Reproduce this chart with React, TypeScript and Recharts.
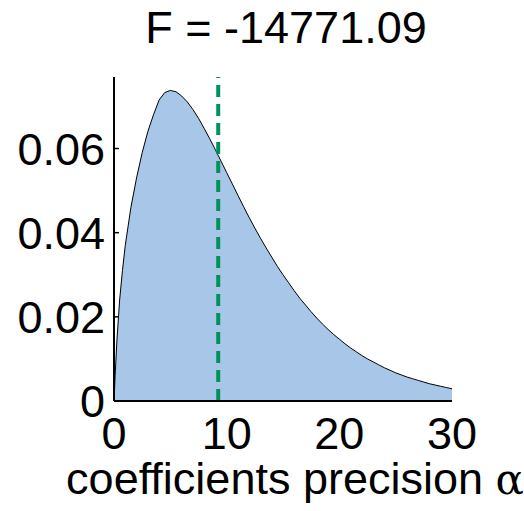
import React from 'react';
import { ComposedChart, Area, XAxis, YAxis, ReferenceLine } from 'recharts';

const alphaValues = [0, 0.1, 0.25, 0.5, 0.75, 1, 1.5, 2, 2.5, 3, 3.5, 4, 4.5, 5, 5.5, 6, 6.5, 7, 7.5, 8, 8.5, 9, 9.5, 10, 10.5, 11, 11.5, 12, 12.5, 13, 13.5, 14, 14.5, 15, 15.5, 16, 16.5, 17, 17.5, 18, 18.5, 19, 19.5, 20, 20.5, 21, 21.5, 22, 22.5, 23, 23.5, 24, 24.5, 25, 25.5, 26, 26.5, 27, 27.5, 28, 28.5, 29, 29.5, 30];
const densityValues = [0, 0.006, 0.014, 0.024, 0.031, 0.037, 0.046, 0.053, 0.059, 0.064, 0.068, 0.0715, 0.0733, 0.0738, 0.0735, 0.0725, 0.0711, 0.0693, 0.0672, 0.0648, 0.0623, 0.0597, 0.0570, 0.0543, 0.0516, 0.0489, 0.0462, 0.0436, 0.0411, 0.0387, 0.0364, 0.0342, 0.0320, 0.0300, 0.0281, 0.0262, 0.0244, 0.0228, 0.0212, 0.0197, 0.0183, 0.0170, 0.0158, 0.0147, 0.0136, 0.0126, 0.0117, 0.0108, 0.0100, 0.0093, 0.0086, 0.0079, 0.0073, 0.0067, 0.0062, 0.0057, 0.0053, 0.0049, 0.0045, 0.0041, 0.0038, 0.0035, 0.0032, 0.0029];
const xTicks = [0, 10, 20, 30];
const yTicks = [0, 0.02, 0.04, 0.06];
const meanAlpha = 9.25;
const titleText = 'F = -14771.09';
const xLabelText = 'coefficients precision ';
const xLabelSymbol = 'α';

const data = alphaValues.map((a, i) => ({ alpha: a, density: densityValues[i] }));

const FONT = '"Liberation Sans", Arial, sans-serif';

export default function App() {
  return (
    <div style={{ position: 'absolute', left: 0, top: 0, width: 524, height: 511, background: '#fff', fontFamily: FONT }}>
      <ComposedChart width={524} height={511} data={data} margin={{ top: 77, right: 72, bottom: 0, left: 0 }}>
        <XAxis
          dataKey="alpha"
          type="number"
          domain={[0, 30]}
          ticks={xTicks}
          allowDataOverflow
          height={110}
          tickSize={0}
          tickMargin={16}
          tickLine={false}
          axisLine={{ stroke: '#000', strokeWidth: 2 }}
          tick={{ fill: '#000', fontSize: 45, fontFamily: FONT }}
          interval={0}
        />
        <YAxis
          type="number"
          domain={[0, 0.077]}
          ticks={yTicks}
          allowDataOverflow
          width={114}
          tickSize={-5}
          tickMargin={14}
          tickLine={{ stroke: '#000', strokeWidth: 1.5 }}
          axisLine={{ stroke: '#000', strokeWidth: 2 }}
          tick={{ fill: '#000', fontSize: 45, fontFamily: FONT }}
          tickFormatter={(v: number) => (v === 0 ? '0' : v.toFixed(2))}
          interval={0}
        />
        <Area
          dataKey="density"
          type="linear"
          fill="#a7c6e8"
          fillOpacity={1}
          stroke="#000"
          strokeWidth={1}
          isAnimationActive={false}
          dot={false}
          activeDot={false}
        />
        <ReferenceLine x={meanAlpha} stroke="#00925c" strokeWidth={4} strokeDasharray="12 7" />
      </ComposedChart>
      <div style={{ position: 'absolute', left: 0, width: 572, top: 5, textAlign: 'center', fontSize: 45, lineHeight: 1, color: '#000', whiteSpace: 'nowrap' }}>
        {titleText}
      </div>
      <div style={{ position: 'absolute', left: 0, width: 590, top: 461, height: 36, textAlign: 'center', fontSize: 45, lineHeight: 0.8, color: '#000', whiteSpace: 'nowrap' }}>
        {xLabelText}
        <span style={{ fontFamily: '"DejaVu Serif", serif', fontSize: 42 }}>{xLabelSymbol}</span>
      </div>
    </div>
  );
}
